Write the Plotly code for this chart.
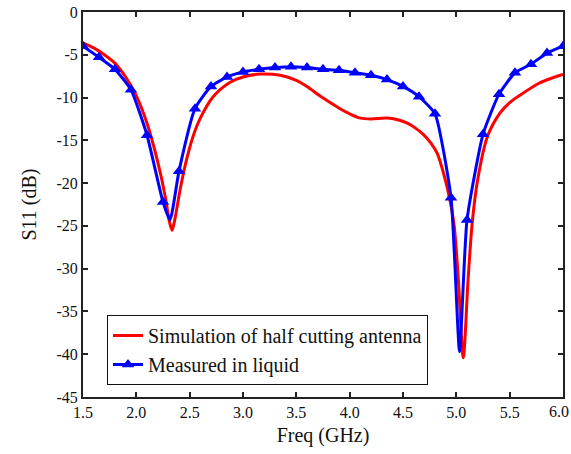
import plotly.graph_objects as go

# Simulation (red) curve
sim_freq = [1.50, 1.60, 1.70, 1.80, 1.90, 2.00, 2.10, 2.20, 2.27, 2.31, 2.335, 2.36, 2.41, 2.46,
            2.53, 2.60, 2.72, 2.88, 3.00, 3.16, 3.35, 3.50, 3.60, 3.72, 3.82, 3.91, 4.00, 4.10,
            4.20, 4.35, 4.45, 4.54, 4.62, 4.69, 4.76, 4.82, 4.89, 4.94, 4.98, 5.02, 5.065, 5.11,
            5.15, 5.20, 5.29, 5.41, 5.50, 5.60, 5.78, 5.90, 6.00]
sim_s11 = [-3.6, -4.2, -5.0, -6.0, -7.6, -9.8, -13.0, -17.5, -21.5, -24.5, -25.5, -24.3, -20.8, -17.8,
           -14.6, -12.4, -9.9, -8.2, -7.6, -7.25, -7.4, -8.0, -8.7, -9.8, -10.6, -11.3, -11.9, -12.4,
           -12.5, -12.4, -12.6, -13.0, -13.6, -14.3, -15.3, -16.5, -19.3, -22.0, -25.0, -31.5, -40.4, -31.3,
           -24.5, -19.6, -14.6, -11.8, -10.6, -9.7, -8.3, -7.7, -7.3]

# Measured (blue) line incl. minima vertices
meas_freq = [1.50, 1.65, 1.80, 1.95, 2.10, 2.25, 2.316, 2.40, 2.55, 2.70, 2.85, 3.00, 3.15, 3.30,
             3.45, 3.60, 3.75, 3.90, 4.05, 4.20, 4.35, 4.50, 4.65, 4.80, 4.95, 5.03, 5.10, 5.25,
             5.40, 5.55, 5.70, 5.85, 6.00]
meas_s11 = [-4.0, -5.3, -6.7, -9.1, -14.4, -22.2, -24.3, -18.6, -11.3, -8.7, -7.6, -7.0, -6.7, -6.5,
            -6.4, -6.5, -6.7, -6.8, -7.1, -7.4, -7.9, -8.7, -9.9, -11.9, -21.7, -39.7, -24.3, -14.3,
            -9.6, -7.1, -6.1, -4.8, -4.0]
# Marker positions (every 0.15 GHz)
mark_freq = [f for f in meas_freq if f not in (2.316, 5.03)]
mark_s11 = [v for f, v in zip(meas_freq, meas_s11) if f not in (2.316, 5.03)]

x_ticks = [1.5, 2.0, 2.5, 3.0, 3.5, 4.0, 4.5, 5.0, 5.5, 6.0]
x_labels = [f"{v:.1f}" for v in x_ticks]
y_ticks = [0, -5, -10, -15, -20, -25, -30, -35, -40, -45]

RED = "#ff0000"
BLUE = "#0000ff"
FONT = "Liberation Serif, Times New Roman, serif"

fig = go.Figure()
fig.add_trace(go.Scatter(x=sim_freq, y=sim_s11, mode="lines",
                         line=dict(color=RED, width=3, shape="spline", smoothing=0.8),
                         name="Simulation of half cutting antenna"))
fig.add_trace(go.Scatter(x=meas_freq, y=meas_s11, mode="lines",
                         line=dict(color=BLUE, width=3, shape="spline", smoothing=0.5),
                         showlegend=False, hoverinfo="skip"))
fig.add_trace(go.Scatter(x=mark_freq, y=mark_s11, mode="markers",
                         marker=dict(symbol="triangle-up", size=11, color=BLUE),
                         showlegend=False))
fig.add_trace(go.Scatter(x=[None], y=[None], mode="lines+markers",
                         line=dict(color=BLUE, width=3),
                         marker=dict(symbol="triangle-up", size=11, color=BLUE),
                         name="Measured in liquid"))

axis_common = dict(showgrid=False, zeroline=False, showline=True, linecolor="#222",
                   linewidth=2, mirror="ticks", ticks="inside", ticklen=5, tickwidth=1.5,
                   tickcolor="#222", tickfont=dict(size=16, color="#111", family=FONT),
                   automargin=False)

# last x tick label is drawn as an annotation so it stays inside the page edge
fig.add_annotation(x=1.0, xref="paper", y=0, yref="paper", text=x_labels[-1],
                   showarrow=False, xanchor="right", yanchor="top", xshift=8, yshift=-4,
                   font=dict(size=16, color="#111", family=FONT))

fig.update_layout(
    width=571, height=454,
    margin=dict(l=83, r=8, t=12, b=57, autoexpand=False),
    paper_bgcolor="white", plot_bgcolor="white",
    font=dict(family=FONT, color="#111"),
    xaxis=dict(range=[1.5, 6.0], tickvals=x_ticks, ticktext=x_labels[:-1] + [""],
               title=dict(text="Freq (GHz)", font=dict(size=20, family=FONT), standoff=8), **axis_common),
    yaxis=dict(range=[-45, 0], tickvals=y_ticks, ticktext=[str(v) for v in y_ticks],
               title=dict(text="S11 (dB)", font=dict(size=20, family=FONT), standoff=14), **axis_common),
    legend=dict(x=0.05, y=0.213, xanchor="left", yanchor="top",
                bgcolor="white", bordercolor="#111", borderwidth=1,
                font=dict(size=20, color="#111", family=FONT), tracegroupgap=0,
                itemwidth=30),
    showlegend=True,
)

fig.write_html("out.html")
